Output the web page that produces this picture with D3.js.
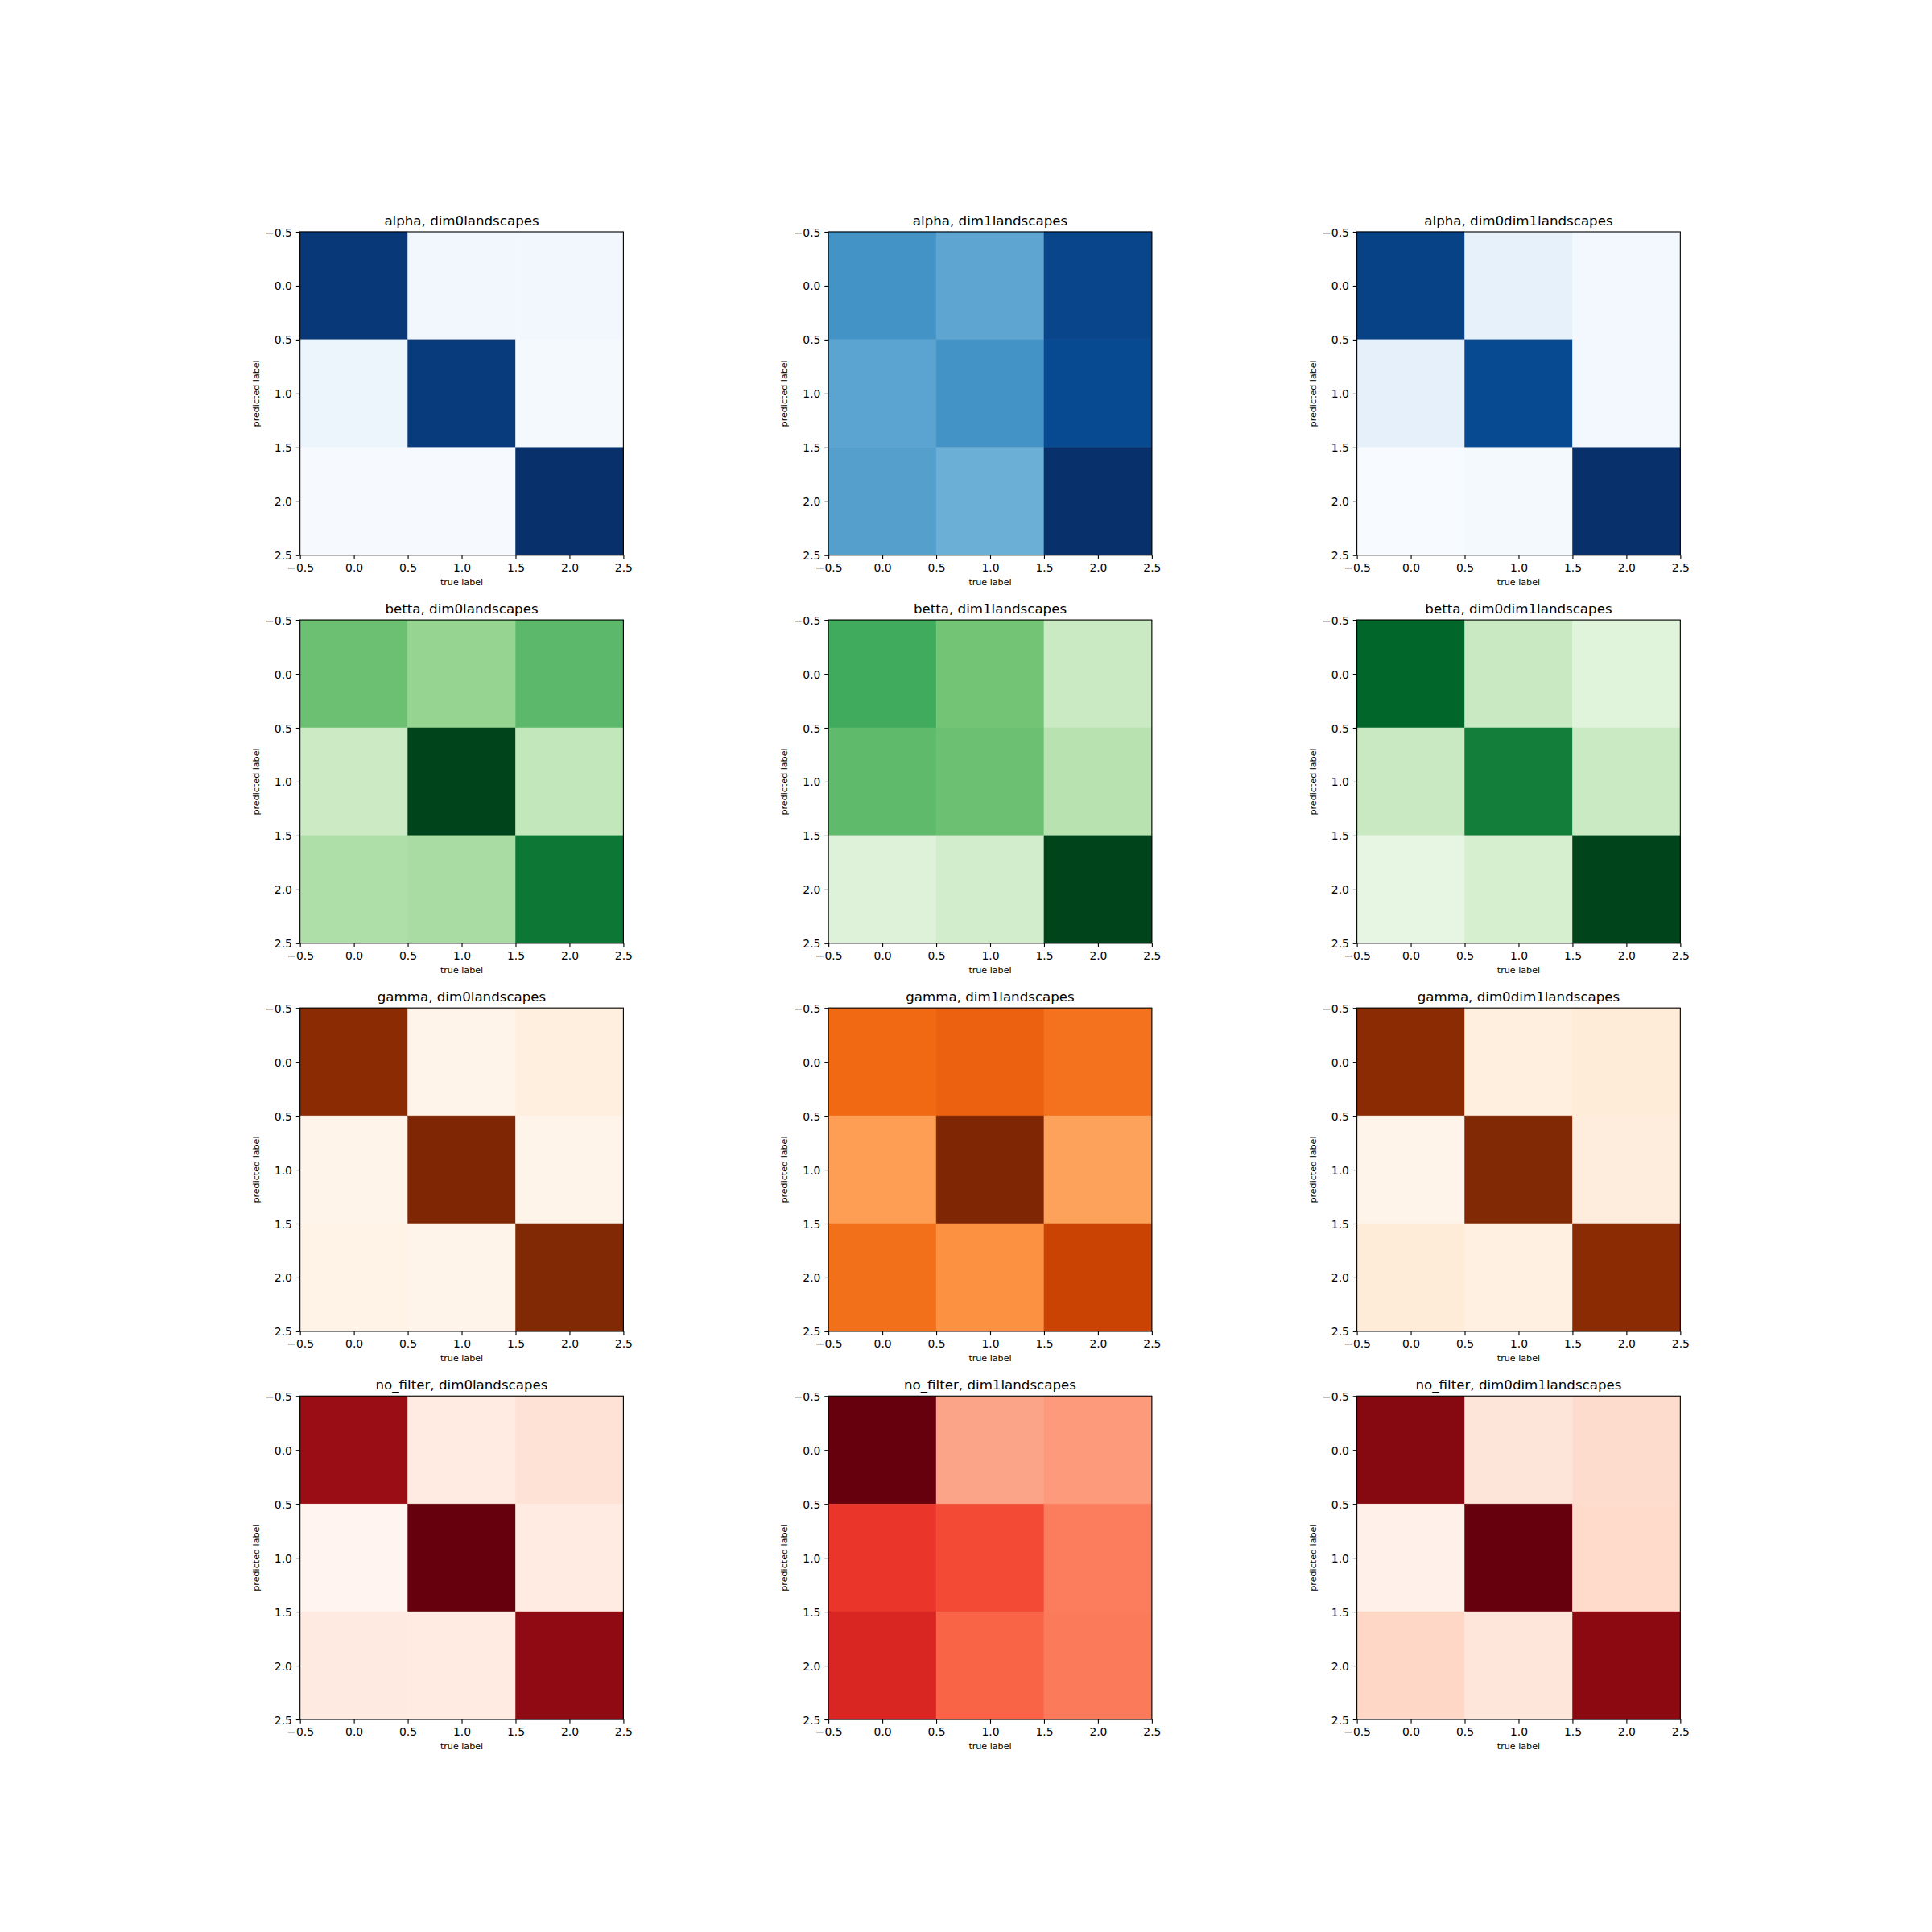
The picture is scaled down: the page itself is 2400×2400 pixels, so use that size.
<!DOCTYPE html>
<html>
<head>
<meta charset="utf-8">
<script src="https://cdn.jsdelivr.net/npm/d3@7"></script>
<style>
  html, body { margin: 0; padding: 0; background: #ffffff; }
  svg { display: block; }
  text { font-family: "DejaVu Sans", sans-serif; fill: #000; }
</style>
</head>
<body>
<script>
// ---------------- data ----------------
const filters = ["alpha", "betta", "gamma", "no_filter"];
const features = ["dim0landscapes", "dim1landscapes", "dim0dim1landscapes"];
const tickValues = [-0.5, 0.0, 0.5, 1.0, 1.5, 2.0, 2.5];
const classes = [0, 1, 2];

// rows = predicted label, columns = true label (colour intensity on a 0..1 scale)
const alpha_dim0 = [[0.97, 0.03, 0.03], [0.05, 0.96, 0.015], [0.005, 0.005, 1.00]];
const alpha_dim1 = [[0.62, 0.54, 0.92], [0.55, 0.62, 0.90], [0.567, 0.50, 1.00]];
const alpha_dim0dim1 = [[0.93, 0.08, 0.02], [0.085, 0.90, 0.02], [0.00, 0.015, 1.00]];

const betta_dim0 = [[0.52, 0.405, 0.56], [0.229, 1.00, 0.266], [0.332, 0.352, 0.83]];
const betta_dim1 = [[0.625, 0.50, 0.241], [0.549, 0.52, 0.299], [0.154, 0.208, 1.00]];
const betta_dim0dim1 = [[0.896, 0.247, 0.146], [0.247, 0.807, 0.243], [0.111, 0.192, 1.00]];

const gamma_dim0 = [[0.965, 0.01, 0.05], [0.01, 1.00, 0.01], [0.015, 0.01, 0.995]];
const gamma_dim1 = [[0.625, 0.656, 0.594], [0.435, 1.00, 0.42], [0.60, 0.485, 0.784]];
const gamma_dim0dim1 = [[0.965, 0.05, 0.083], [0.01, 0.995, 0.065], [0.083, 0.04, 0.965]];

const nofilter_dim0 = [[0.895, 0.06, 0.113], [0.006, 1.00, 0.06], [0.066, 0.06, 0.92]];
const nofilter_dim1 = [[1.00, 0.32, 0.35], [0.644, 0.585, 0.44], [0.70, 0.516, 0.45]];
const nofilter_dim0dim1 = [[0.9375, 0.095, 0.139], [0.03, 1.00, 0.142], [0.155, 0.089, 0.925]];

const matrices = [
  [alpha_dim0, alpha_dim1, alpha_dim0dim1],
  [betta_dim0, betta_dim1, betta_dim0dim1],
  [gamma_dim0, gamma_dim1, gamma_dim0dim1],
  [nofilter_dim0, nofilter_dim1, nofilter_dim0dim1]
];

const blues = ["#f7fbff", "#deebf7", "#c6dbef", "#9ecae1", "#6baed6", "#4292c6", "#2171b5", "#08519c", "#08306b"];
const greens = ["#f7fcf5", "#e5f5e0", "#c7e9c0", "#a1d99b", "#74c476", "#41ab5d", "#238b45", "#006d2c", "#00441b"];
const oranges = ["#fff5eb", "#fee6ce", "#fdd0a2", "#fdae6b", "#fd8d3c", "#f16913", "#d94801", "#a63603", "#7f2704"];
const reds = ["#fff5f0", "#fee0d2", "#fcbba1", "#fc9272", "#fb6a4a", "#ef3b2c", "#cb181d", "#a50f15", "#67000d"];
const rowPalettes = [blues, greens, oranges, reds];

// ---------------- layout ----------------
const W = 2400, H = 2400;
const figLeft = 0.125 * W, figRight = 0.9 * W, figTop = (1 - 0.88) * H, figBottom = (1 - 0.11) * H;
const nRows = 4, nCols = 3;
const cellH = (figBottom - figTop) / (nRows + (nRows - 1) * 0.2);
const gapH = cellH * 0.2;
const cellW = (figRight - figLeft) / (nCols + (nCols - 1) * 0.2);
const gapW = cellW * 0.2;
const S = Math.min(cellH, cellW);

const pt = 100 / 72;
const tickLen = 3.5 * pt, tickPad = 3.5 * pt, lw = 0.8 * pt;
const tickFont = 10 * pt, titleFont = 12 * pt, labelFont = 8 * pt;

const svg = d3.select("body").append("svg")
  .attr("width", W).attr("height", H)
  .attr("viewBox", `0 0 ${W} ${H}`);
svg.append("rect").attr("width", W).attr("height", H).attr("fill", "#fff");

const fmt = d3.format(".1f");

function makeCmap(stops) {
  return d3.scaleLinear()
    .domain(d3.range(stops.length).map(i => i / (stops.length - 1)))
    .range(stops)
    .interpolate(d3.interpolateRgb)
    .clamp(true);
}

for (let r = 0; r < nRows; r++) {
  for (let c = 0; c < nCols; c++) {
    const slotX = figLeft + c * (cellW + gapW);
    const slotY = figTop + r * (cellH + gapH);
    const x0 = slotX + (cellW - S) / 2;
    const y0 = slotY + (cellH - S) / 2;
    const data = matrices[r][c];
    const cmap = makeCmap(rowPalettes[r]);

    const x = d3.scaleLinear().domain([-0.5, 2.5]).range([x0, x0 + S]);
    const y = d3.scaleLinear().domain([-0.5, 2.5]).range([y0, y0 + S]);

    const g = svg.append("g");

    // cells
    const cells = [];
    classes.forEach(i => classes.forEach(j => cells.push({ i, j, v: data[i][j] })));
    g.append("g").selectAll("rect").data(cells).join("rect")
      .attr("x", d => x(d.j - 0.5))
      .attr("y", d => y(d.i - 0.5))
      .attr("width", d => x(d.j + 0.5) - x(d.j - 0.5))
      .attr("height", d => y(d.i + 0.5) - y(d.i - 0.5))
      .attr("fill", d => cmap(d.v))
      .attr("stroke", d => cmap(d.v))
      .attr("stroke-width", 0.5);

    // x axis
    const xAxis = d3.axisBottom(x).tickValues(tickValues).tickFormat(fmt)
      .tickSize(tickLen).tickPadding(tickPad + 0.5).tickSizeOuter(0);
    const gx = g.append("g").attr("transform", `translate(0,${y0 + S})`).call(xAxis);
    gx.select(".domain").remove();
    gx.selectAll(".tick line").attr("stroke", "#000").attr("stroke-width", lw);
    gx.selectAll(".tick text").attr("font-size", tickFont).attr("fill", "#000")
      .attr("font-family", "DejaVu Sans");

    // y axis
    const yAxis = d3.axisLeft(y).tickValues(tickValues).tickFormat(fmt)
      .tickSize(tickLen).tickPadding(tickPad).tickSizeOuter(0);
    const gy = g.append("g").attr("transform", `translate(${x0},0)`).call(yAxis);
    gy.select(".domain").remove();
    gy.selectAll(".tick line").attr("stroke", "#000").attr("stroke-width", lw);
    gy.selectAll(".tick text").attr("font-size", tickFont).attr("fill", "#000")
      .attr("font-family", "DejaVu Sans").attr("dy", "0.36em");

    // spines
    g.append("rect")
      .attr("x", x0).attr("y", y0).attr("width", S).attr("height", S)
      .attr("fill", "none").attr("stroke", "#000").attr("stroke-width", lw);

    // title
    g.append("text")
      .attr("x", x0 + S / 2).attr("y", y0 - 6 * pt)
      .attr("text-anchor", "middle")
      .attr("font-size", titleFont)
      .text(`${filters[r]}, ${features[c]}`);

    // x label
    g.append("text")
      .attr("x", x0 + S / 2).attr("y", y0 + S + 37)
      .attr("text-anchor", "middle")
      .attr("font-size", labelFont)
      .text("true label");

    // y label
    g.append("text")
      .attr("transform", `translate(${x0 - 51},${y0 + S / 2}) rotate(-90)`)
      .attr("text-anchor", "middle")
      .attr("font-size", labelFont)
      .text("predicted label");
  }
}
</script>
</body>
</html>
